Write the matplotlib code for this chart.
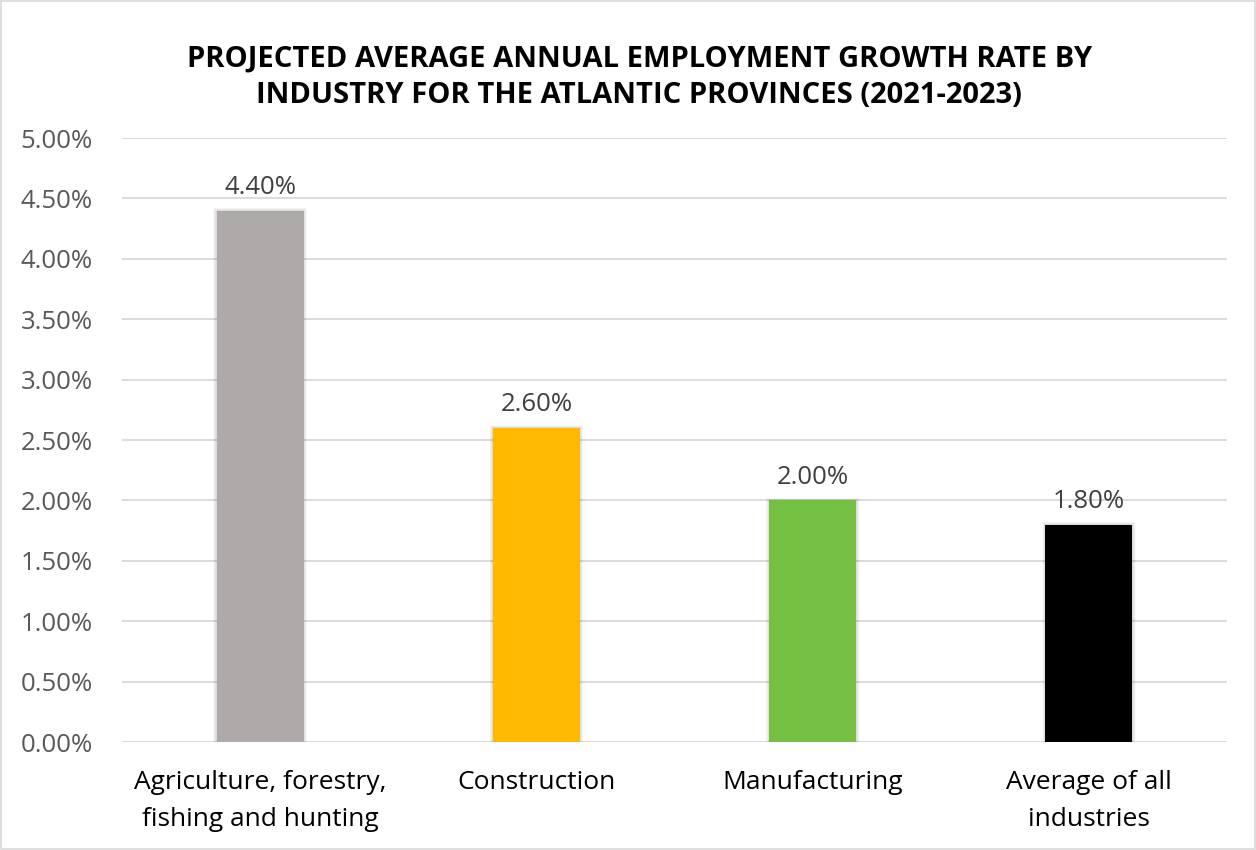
import matplotlib.pyplot as plt
from matplotlib.patches import Rectangle

# data
categories = ["Agriculture, forestry,\nfishing and hunting", "Construction",
              "Manufacturing", "Average of all\nindustries"]
growth = [0.044, 0.026, 0.020, 0.018]
colors = ["#AEAAAA", "#FFB900", "#74C043", "#000000"]
yticks = [0.0, 0.005, 0.01, 0.015, 0.02, 0.025, 0.03, 0.035, 0.04, 0.045, 0.05]

plt.rcParams["font.family"] = ["Open Sans", "DejaVu Sans"]

fig = plt.figure(figsize=(12.56, 8.5), dpi=100)
ax = fig.add_axes([0.0971, 0.127, 0.8799, 0.7106])

x = range(len(categories))
w = 0.315

# soft shadow behind bars
for k in range(6):
    grow = 0.004 * (k + 1)
    ax.bar(x, [v + 0.00004 * (k + 1) for v in growth], width=w + grow,
           color="#000000", alpha=0.025, zorder=2, linewidth=0)

ax.bar(x, growth, width=w, color=colors, zorder=3, linewidth=0)

for i, v in enumerate(growth):
    ax.text(i, v + 0.0009, f"{v*100:.2f}%", ha="center", va="bottom",
            fontsize=18.5, color="#404040", zorder=4)

ax.set_xlim(-0.5, len(categories) - 0.5)
ax.set_ylim(0, 0.05)
ax.set_yticks(yticks)
ax.set_yticklabels([f"{t*100:.2f}%" for t in yticks], fontsize=18.5, color="#595959")
ax.set_xticks(list(x))
ax.set_xticklabels(categories, fontsize=19, color="#000000", linespacing=1.62)
ax.tick_params(axis="both", length=0)
ax.tick_params(axis="y", pad=21)
ax.tick_params(axis="x", pad=20)
ax.grid(axis="y", color="#D9D9D9", linewidth=1.3, zorder=0)
ax.set_axisbelow(True)
for s in ax.spines.values():
    s.set_visible(False)

fig.text(0.509, 0.909, "PROJECTED AVERAGE ANNUAL EMPLOYMENT GROWTH RATE BY\n"
         "INDUSTRY FOR THE ATLANTIC PROVINCES (2021-2023)",
         ha="center", va="center", fontsize=21, fontweight="bold",
         color="#000000", linespacing=1.3)

# figure border
fig.patches.append(Rectangle((0.001, 0.001), 0.998, 0.998, transform=fig.transFigure,
                             fill=False, edgecolor="#D9D9D9", linewidth=1.2))

plt.savefig("out.png", dpi=100)
